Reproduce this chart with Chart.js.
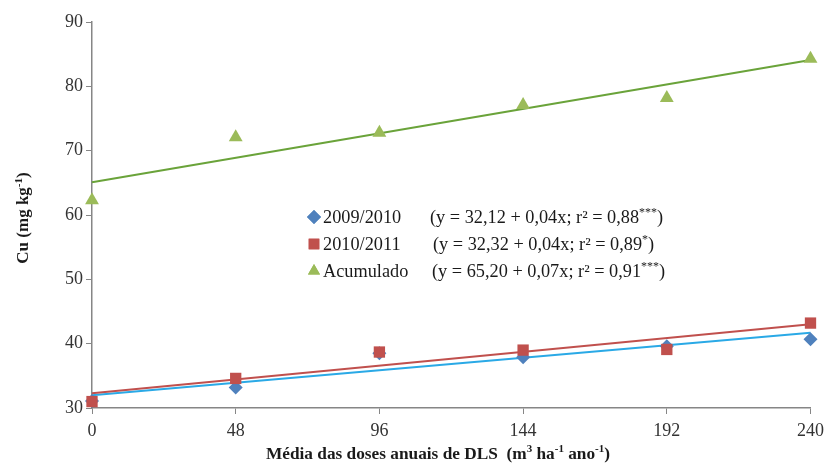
<!DOCTYPE html>
<html>
<head>
<meta charset="utf-8">
<script src="https://cdn.jsdelivr.net/npm/chart.js@4/dist/chart.umd.min.js"></script>
<style>
  html, body { margin: 0; padding: 0; background: #fff; }
  #wrap { width: 830px; height: 468px; }
</style>
</head>
<body>
<div id="wrap"><canvas id="cuChart" width="830" height="468"></canvas></div>
<script>
// doses (m3/ha/ano) and Cu (mg/kg)
const doses = [0, 48, 96, 144, 192, 240];
const cu2009 = [31.1, 33.2, 38.5, 37.9, 39.6, 40.7];
const cu2010 = [31.0, 34.6, 38.7, 39.0, 39.1, 43.2];
const cuAcum = [62.3, 72.1, 72.8, 77.1, 78.2, 84.3];

// trend line ends (at dose 0 and 240)
const fitX = [0, 240];
const fit2009 = [32.0, 41.7];
const fit2010 = [32.3, 43.0];
const fitAcum = [65.1, 84.1];

const yTicks = [30, 40, 50, 60, 70, 80, 90];
const seriesNames = ['2009/2010', '2010/2011', 'Acumulado'];
const equations = [
    ['(y = 32,12 + 0,04x; r² = 0,88', '***', ')'],
    ['(y = 32,32 + 0,04x; r² = 0,89', '*', ')'],
    ['(y = 65,20 + 0,07x; r² = 0,91', '***', ')']
];

const FONT = '"Liberation Serif", "Times New Roman", serif';
const markerColors = ['#4F81BD', '#C0504D', '#9BBB59'];
const lineColors = ['#2AA9E6', '#C0504D', '#6AA33A'];
const markerStyles = ['rectRot', 'rect', 'triangle'];
const markerSizes = [7, 8, 8];

function pts(xs, ys) {
    return xs.map((x, i) => ({ x: x, y: ys[i] }));
}

// draw text made of [text, isSup] pieces, left aligned
function drawRich(ctx, pieces, x, y, size, bold) {
    pieces.forEach(([txt, sup]) => {
        const s = sup ? Math.round(size * 0.65) : size;
        ctx.font = (bold ? 'bold ' : '') + s + 'px ' + FONT;
        ctx.textBaseline = 'alphabetic';
        ctx.fillText(txt, x, y + (sup ? -size * 0.38 : 0));
        x += ctx.measureText(txt).width;
    });
    return x;
}

function richWidth(ctx, pieces, size, bold) {
    let w = 0;
    pieces.forEach(([txt, sup]) => {
        const s = sup ? Math.round(size * 0.65) : size;
        ctx.font = (bold ? 'bold ' : '') + s + 'px ' + FONT;
        w += ctx.measureText(txt).width;
    });
    return w;
}

const extras = {
    id: 'extras',
    afterDraw(chart) {
        const ctx = chart.ctx;
        ctx.save();
        ctx.fillStyle = '#1a1a1a';

        // x axis title
        const xt = [['Média das doses anuais de DLS  (m', false], ['3', true], [' ha', false], ['-1', true], [' ano', false], ['-1', true], [')', false]];
        const xw = richWidth(ctx, xt, 17.3, true);
        drawRich(ctx, xt, 438 - xw / 2, 459, 17.3, true);

        // y axis title
        const yt = [['Cu (mg kg', false], ['-1', true], [')', false]];
        const yw = richWidth(ctx, yt, 17, true);
        ctx.save();
        ctx.translate(28, 218);
        ctx.rotate(-Math.PI / 2);
        drawRich(ctx, yt, -yw / 2, 0, 17, true);
        ctx.restore();

        // legend with equations
        const rowsY = [217, 244, 271];
        const eqX = [430, 433, 432];
        seriesNames.forEach((name, i) => {
            const y = rowsY[i];
            ctx.fillStyle = markerColors[i];
            Chart.helpers.drawPoint(ctx, { pointStyle: markerStyles[i], radius: i === 1 ? 7.5 : 7, borderWidth: 0 }, 314, y);
            ctx.fill();
            ctx.fillStyle = '#1a1a1a';
            drawRich(ctx, [[name, false]], 323, y + 6, 18.3, false);
            const eq = equations[i];
            drawRich(ctx, [[eq[0], false], [eq[1], true], [eq[2], false]], eqX[i], y + 6, 18.3, false);
        });
        ctx.restore();
    }
};

const ctx = document.getElementById('cuChart').getContext('2d');
new Chart(ctx, {
    type: 'scatter',
    data: {
        datasets: [
            { label: 'fit0910', data: pts(fitX, fit2009), showLine: true, borderColor: lineColors[0], borderWidth: 2, pointRadius: 0, clip: false, order: 5 },
            { label: 'fit1011', data: pts(fitX, fit2010), showLine: true, borderColor: lineColors[1], borderWidth: 2, pointRadius: 0, clip: false, order: 4 },
            { label: 'fitAcum', data: pts(fitX, fitAcum), showLine: true, borderColor: lineColors[2], borderWidth: 2, pointRadius: 0, clip: false, order: 3 },
            { label: seriesNames[0], data: pts(doses, cu2009), pointStyle: markerStyles[0], pointRadius: markerSizes[0], backgroundColor: markerColors[0], borderWidth: 0, clip: false, order: 2 },
            { label: seriesNames[1], data: pts(doses, cu2010), pointStyle: markerStyles[1], pointRadius: markerSizes[1], backgroundColor: markerColors[1], borderWidth: 0, clip: false, order: 1 },
            { label: seriesNames[2], data: pts(doses, cuAcum), pointStyle: markerStyles[2], pointRadius: markerSizes[2], backgroundColor: markerColors[2], borderWidth: 0, clip: false, order: 0 }
        ]
    },
    options: {
        responsive: false,
        animation: false,
        events: [],
        layout: { padding: { top: 22, right: 11, left: 0, bottom: 0 } },
        plugins: { legend: { display: false }, tooltip: { enabled: false } },
        scales: {
            x: {
                type: 'linear',
                min: 0,
                max: 240,
                afterBuildTicks: (scale) => { scale.ticks = doses.map(v => ({ value: v })); },
                afterFit: (scale) => { scale.height = 60; },
                grid: { drawOnChartArea: false, color: '#868686', tickLength: 6 },
                border: { color: '#868686', width: 1.5 },
                ticks: { color: '#333', padding: 6, font: { family: FONT, size: 18 }, maxRotation: 0 }
            },
            y: {
                min: 30,
                max: 90,
                afterBuildTicks: (scale) => { scale.ticks = yTicks.map(v => ({ value: v })); },
                afterFit: (scale) => { scale.width = 92; },
                grid: { drawOnChartArea: false, color: '#868686', tickLength: 6 },
                border: { color: '#868686', width: 1.5 },
                ticks: { color: '#333', padding: 3, font: { family: FONT, size: 18 } }
            }
        }
    },
    plugins: [extras]
});
</script>
</body>
</html>
